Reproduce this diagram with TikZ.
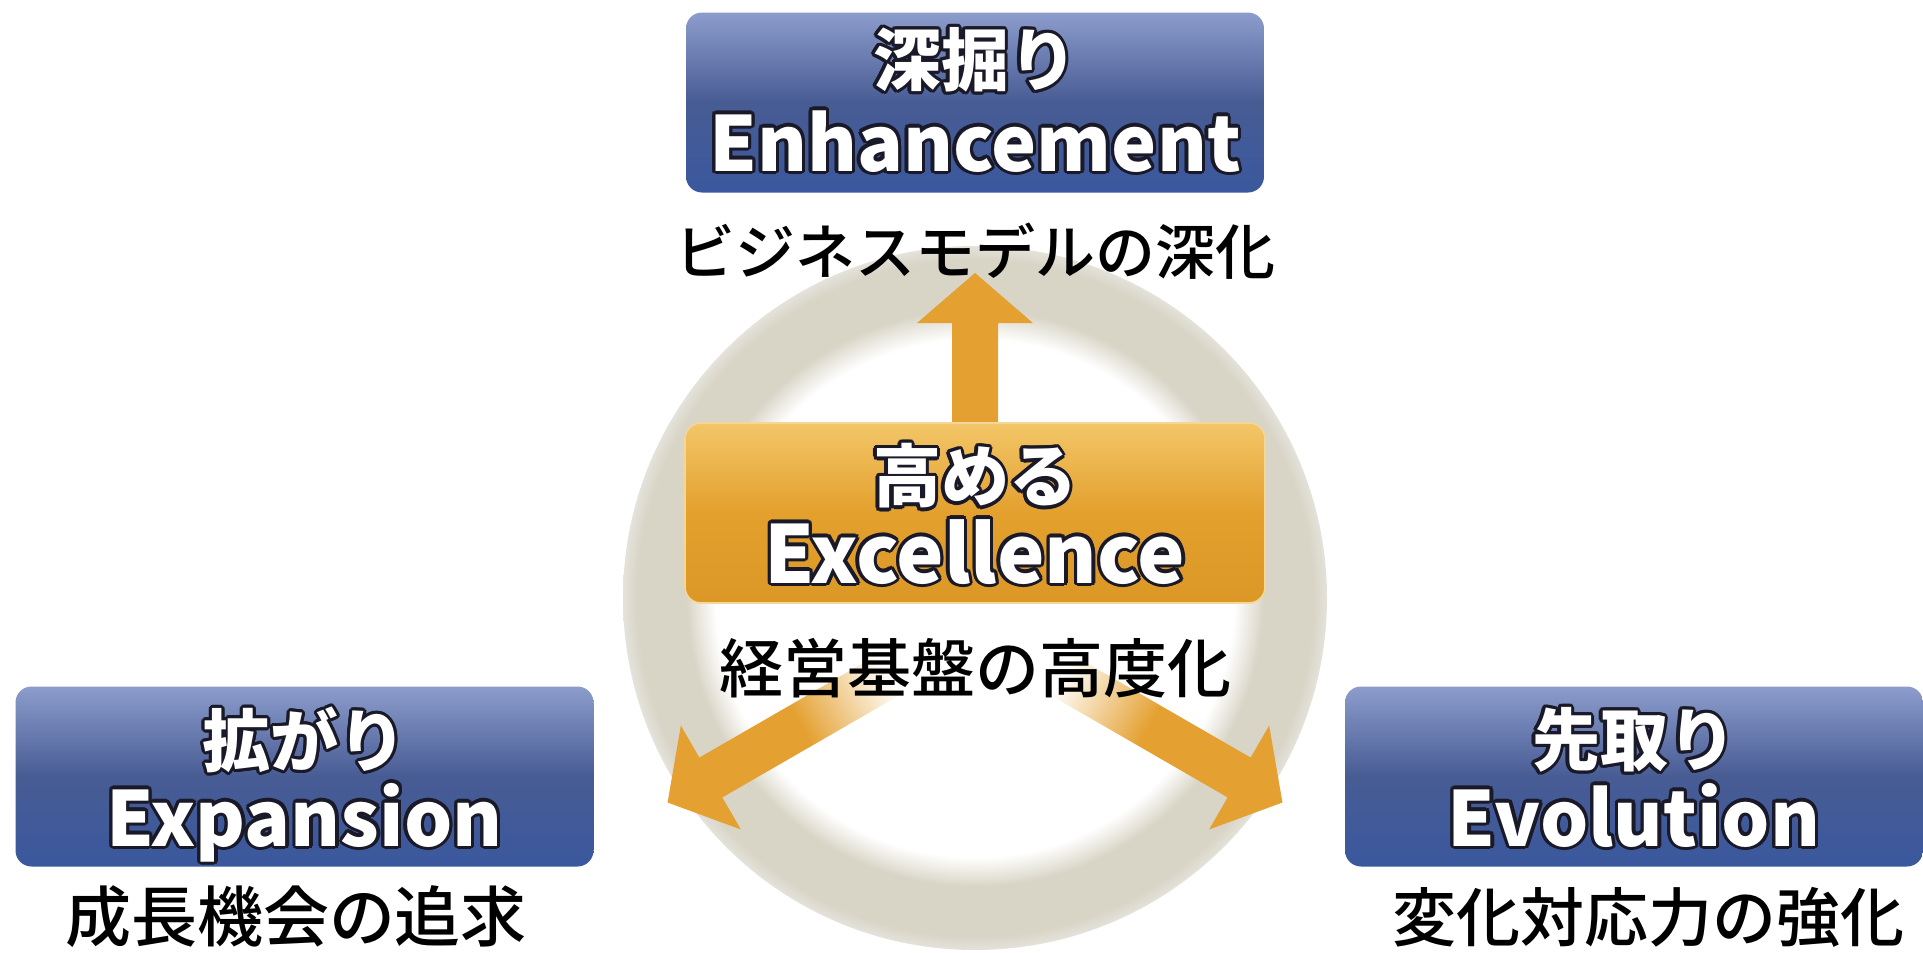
\documentclass[tikz,border=0pt]{standalone}
\usepackage{fontspec}
\newfontfamily\jp{Noto Sans CJK JP}
\newfontfamily\jpm{Noto Sans CJK JP}[UprightFont={* Medium}]
\definecolor{bluetop}{RGB}{140,156,204}
\definecolor{bluemid}{RGB}{72,92,148}
\definecolor{bluebot}{RGB}{58,88,158}
\definecolor{ortop}{RGB}{243,198,105}
\definecolor{ormid}{RGB}{227,160,45}
\definecolor{orbot}{RGB}{220,152,38}
\definecolor{orline}{RGB}{246,214,150}
\definecolor{arrowor}{RGB}{228,160,48}
\definecolor{ringlt}{RGB}{226,223,212}
\definecolor{ringc}{RGB}{216,212,198}
\definecolor{ringedge}{RGB}{228,226,218}
\definecolor{ink}{RGB}{25,25,40}
% ring: 25bp = radius 352
\pgfdeclareradialshading{ringsh}{\pgfpoint{0bp}{0bp}}{color(0bp)=(white); color(18.4bp)=(white); color(20.0bp)=(ringlt); color(20.5bp)=(ringc); color(24.0bp)=(ringc); color(25bp)=(ringedge); color(50bp)=(ringedge)}
\pgfdeclarehorizontalshading{arrfade}{100bp}{color(0bp)=(white); color(25bp)=(white); color(45bp)=(arrowor); color(100bp)=(arrowor)}
\pgfdeclarehorizontalshading{arrup}{100bp}{color(0bp)=(arrowor!70!white); color(25bp)=(arrowor!70!white); color(40bp)=(arrowor); color(100bp)=(arrowor)}
\newcommand\otitle[4]{%
  \foreach \k in {0,22.5,...,337.5}{\node[#1, text=ink, shift={(\k:1.6pt)}] at #3 {#4};}
  \node[#1] (#2) at #3 {#4};}
\begin{document}
\begin{tikzpicture}[x=0.5pt,y=-0.5pt,
  bluebox/.style={rounded corners=8pt, minimum width=289pt, minimum height=90pt, inner sep=0pt, top color=bluetop, bottom color=bluebot, middle color=bluemid},
  orangebox/.style={rounded corners=8pt, minimum width=290pt, minimum height=90pt, inner sep=0pt, top color=ortop, bottom color=orbot, middle color=ormid, draw=orline, line width=0.8pt},
  titlejp/.style={font=\jp\bfseries\fontsize{34}{36}\selectfont, text=white, inner sep=0pt},
  titleen/.style={font=\jp\bfseries\fontsize{38}{42}\selectfont, text=white, inner sep=0pt, anchor=base},
  bigen/.style={titleen, font=\jp\bfseries\fontsize{40}{42}\selectfont},
  subtitle/.style={font=\jpm\fontsize{32}{36}\selectfont, text=black, inner sep=0pt}
]
\useasboundingbox (0,0) rectangle (1923,953);
\fill[white] (0,0) rectangle (1923,953);
\coordinate (R) at (975,598);
\coordinate (C) at (975,625);
% ring
\shade[shading=ringsh] (R) circle[radius=352];
% arrows
\begin{scope}[shift={(C)}, transform canvas={rotate around={90:(C)}}]
  \shade[shading=arrup] (120,-23) -- (302,-23) -- (302,-58) -- (352,0) -- (302,58) -- (302,23) -- (120,23) -- cycle;
\end{scope}
\begin{scope}[shift={(C)}, transform canvas={rotate around={210:(C)}}]
  \shade[shading=arrfade] (100,-23) -- (305,-23) -- (305,-60) -- (355,0) -- (305,60) -- (305,23) -- (100,23) -- cycle;
\end{scope}
\begin{scope}[shift={(C)}, transform canvas={rotate around={330:(C)}}]
  \shade[shading=arrfade] (100,-23) -- (305,-23) -- (305,-60) -- (355,0) -- (305,60) -- (305,23) -- (100,23) -- cycle;
\end{scope}
% boxes
\node[bluebox] (top) at (975,102.5) {};
\node[orangebox] (mid) at (975,513) {};
\node[bluebox] (left) at (304.5,776.5) {};
\node[bluebox] (right) at (1634,776.5) {};
% titles
\otitle{titlejp}{topjp}{(975,60)}{深掘り}
\otitle{titleen}{topen}{(975,171)}{Enhancement}
\otitle{titlejp}{midjp}{(975,476)}{高める}
\otitle{bigen}{miden}{(975,583)}{Excellence}
\otitle{titlejp}{leftjp}{(304.5,740)}{拡がり}
\otitle{titleen}{leften}{(304.5,846)}{Expansion}
\otitle{titlejp}{rightjp}{(1634,740)}{先取り}
\otitle{titleen}{righten}{(1634,846)}{Evolution}
% subtitles
\node[subtitle, font=\jpm\fontsize{30}{34}\selectfont] (topsub) at (975,251) {ビジネスモデルの深化};
\node[subtitle] (midsub) at (975,668) {経営基盤の高度化};
\node[subtitle, font=\jpm\fontsize{33}{36}\selectfont] (leftsub) at (296,917) {成長機会の追求};
\node[subtitle] (rightsub) at (1648,917) {変化対応力の強化};
\end{tikzpicture}
\end{document}
